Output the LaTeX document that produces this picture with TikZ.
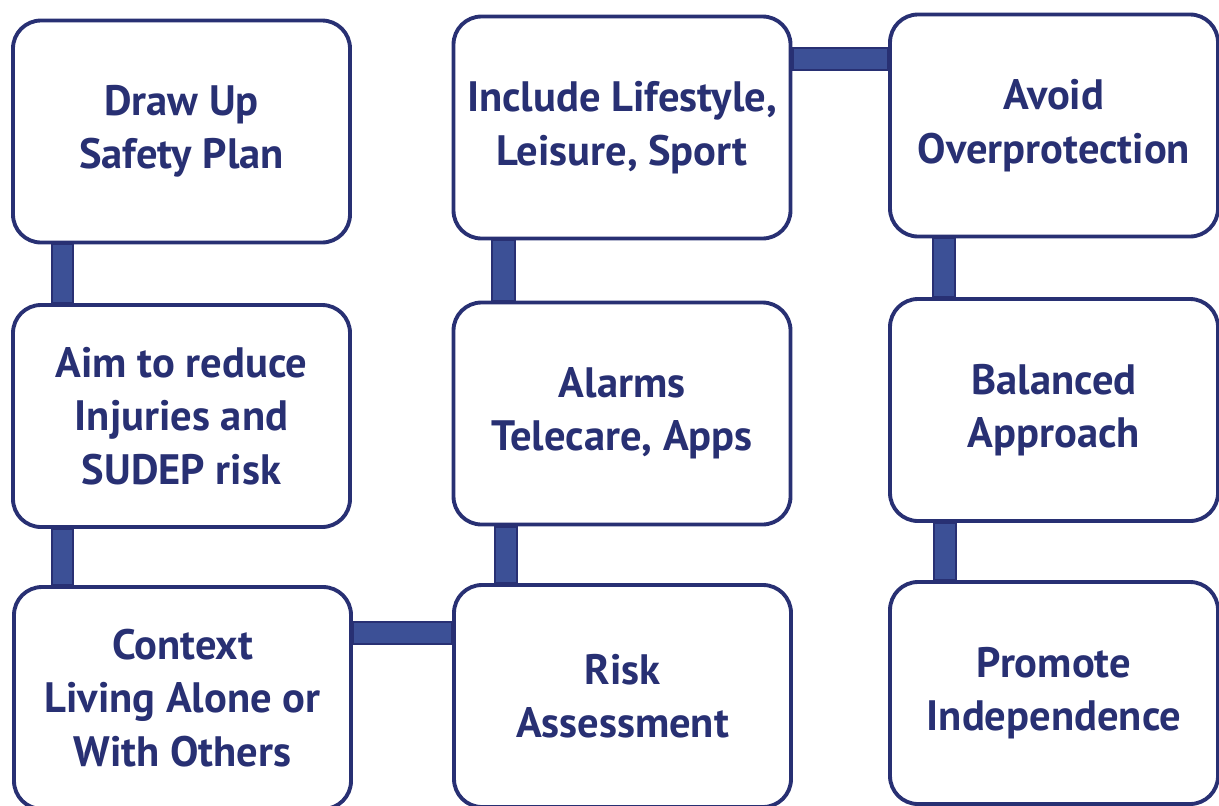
\documentclass[tikz,border=0pt]{standalone}
\usepackage{fontspec}
\setmainfont{PT Sans}
\definecolor{navy}{RGB}{40,48,115}
\definecolor{barblue}{RGB}{60,80,150}
\begin{document}
\begin{tikzpicture}[
	box/.style={draw=navy,line width=1.1pt,rounded corners=0.28cm,fill=white,
		minimum width=#1,minimum height=2.22cm,align=center,text=navy,inner sep=0pt,
		font=\fontsize{12.1}{15.2}\selectfont\bfseries},
	box/.default=3.37cm,
	bar/.style={fill=barblue,draw=navy,line width=0.6pt}]
\useasboundingbox (0,0) rectangle (12.19,-8.05);
% first column
\node[box] (plan) at (1.815,-1.315) {Draw Up\\Safety Plan};
\node[box] (aim) at (1.815,-4.16) {Aim to reduce\\Injuries and\\SUDEP risk};
\node[box] (ctx) at (1.825,-6.98) {Context\\Living Alone or\\With Others};
% second column
\node[box] (life) at (6.22,-1.275) {Include Lifestyle,\\Leisure, Sport};
\node[box] (alarm) at (6.22,-4.135) {Alarms\\Telecare, Apps};
\node[box] (risk) at (6.225,-6.96) {Risk\\Assessment};
% third column
\node[box=3.28cm] (avoid) at (10.54,-1.255) {Avoid\\Overprotection};
\node[box=3.28cm] (bal) at (10.54,-4.10) {Balanced\\Approach};
\node[box=3.28cm] (prom) at (10.54,-6.93) {Promote\\Independence};

\filldraw[bar] ([xshift=0.41cm]plan.south west) rectangle ([xshift=0.62cm]plan.south west |- aim.north);
\filldraw[bar] ([xshift=0.41cm]aim.south west) rectangle ([xshift=0.62cm]aim.south west |- ctx.north);
\filldraw[bar] ([xshift=0.40cm]life.south west) rectangle ([xshift=0.63cm]life.south west |- alarm.north);
\filldraw[bar] ([xshift=0.43cm]alarm.south west) rectangle ([xshift=0.65cm]alarm.south west |- risk.north);
\filldraw[bar] ([xshift=0.45cm]avoid.south west) rectangle ([xshift=0.67cm]avoid.south west |- bal.north);
\filldraw[bar] ([xshift=0.46cm]bal.south west) rectangle ([xshift=0.68cm]bal.south west |- prom.north);
\filldraw[bar] ([yshift=-0.37cm]ctx.north east) rectangle ([yshift=-0.59cm]ctx.north east -| risk.west);
\filldraw[bar] ([yshift=-0.33cm]life.north east) rectangle ([yshift=-0.55cm]life.north east -| avoid.west);
\end{tikzpicture}
\end{document}
